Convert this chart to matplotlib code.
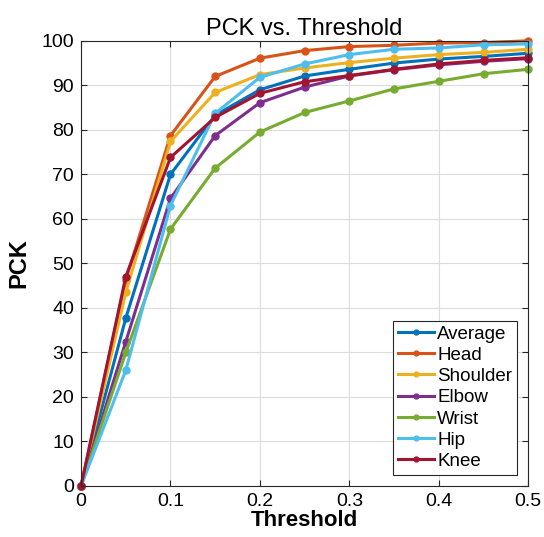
import numpy as np
import matplotlib
matplotlib.use('Agg')
import matplotlib.pyplot as plt

plt.rcParams['font.family'] = ['Liberation Sans', 'DejaVu Sans']

# PCK values
threshold = [0, 0.05, 0.1, 0.15, 0.2, 0.25, 0.3, 0.35, 0.4, 0.45, 0.5]
average = [0, 37.7, 70.0, 83.3, 89.0, 92.1, 93.6, 95.0, 95.9, 96.5, 97.2]
head = [0, 46.3, 78.7, 92.0, 96.1, 97.8, 98.7, 99.0, 99.5, 99.6, 100.0]
shoulder = [0, 43.5, 77.4, 88.4, 92.4, 93.9, 95.1, 96.1, 96.9, 97.4, 98.1]
elbow = [0, 32.4, 64.6, 78.7, 86.1, 89.6, 92.1, 93.5, 94.6, 95.4, 96.0]
wrist = [0, 30.0, 57.7, 71.4, 79.5, 83.9, 86.5, 89.2, 90.9, 92.6, 93.6]
hip = [0, 26.0, 63.0, 83.7, 91.8, 94.8, 96.9, 98.1, 98.4, 99.1, 99.3]
knee = [0, 47.0, 73.8, 82.8, 88.2, 90.8, 92.2, 93.6, 94.8, 95.6, 96.2]

series = [('Average', average), ('Head', head), ('Shoulder', shoulder),
          ('Elbow', elbow), ('Wrist', wrist), ('Hip', hip), ('Knee', knee)]
colors = ['#0072BD', '#D95319', '#EDB120', '#7E2F8E', '#77AC30', '#4DBEEE', '#A2142F']

fig = plt.figure(figsize=(5.44, 5.37), dpi=100)
ax = fig.add_axes([0.149, 0.095, 0.822, 0.829])

for (name, vals), c in zip(series, colors):
    ax.plot(threshold, vals, '-o', color=c, lw=2.2, ms=5, label=name, clip_on=False)

ax.set_xlim(0, 0.5)
ax.set_ylim(0, 100)
ax.set_xticks(np.arange(0, 0.51, 0.1))
ax.set_xticklabels(['0', '0.1', '0.2', '0.3', '0.4', '0.5'])
ax.set_yticks(np.arange(0, 101, 10))
ax.grid(True, color='#dcdcdc', lw=0.8)
ax.set_axisbelow(True)
ax.tick_params(direction='in', length=4, labelsize=14, top=True, right=True,
               color='#262626', labelcolor='black', pad=5)
for sp in ax.spines.values():
    sp.set_color('#262626')
    sp.set_linewidth(0.8)

ax.set_title('PCK vs. Threshold', fontsize=17, pad=4)
ax.set_xlabel('Threshold', fontsize=16, fontweight='bold', labelpad=0)
ax.set_ylabel('PCK', fontsize=17, fontweight='bold', labelpad=8)

leg = ax.legend(loc='lower right', fontsize=13.5, frameon=True, fancybox=False,
                edgecolor='#262626', framealpha=1, handlelength=1.9,
                handletextpad=0.2, borderpad=0.25, labelspacing=0.22,
                borderaxespad=0.6, markerscale=0.7)
leg.get_frame().set_linewidth(0.8)

fig.savefig('out.png', dpi=100)
